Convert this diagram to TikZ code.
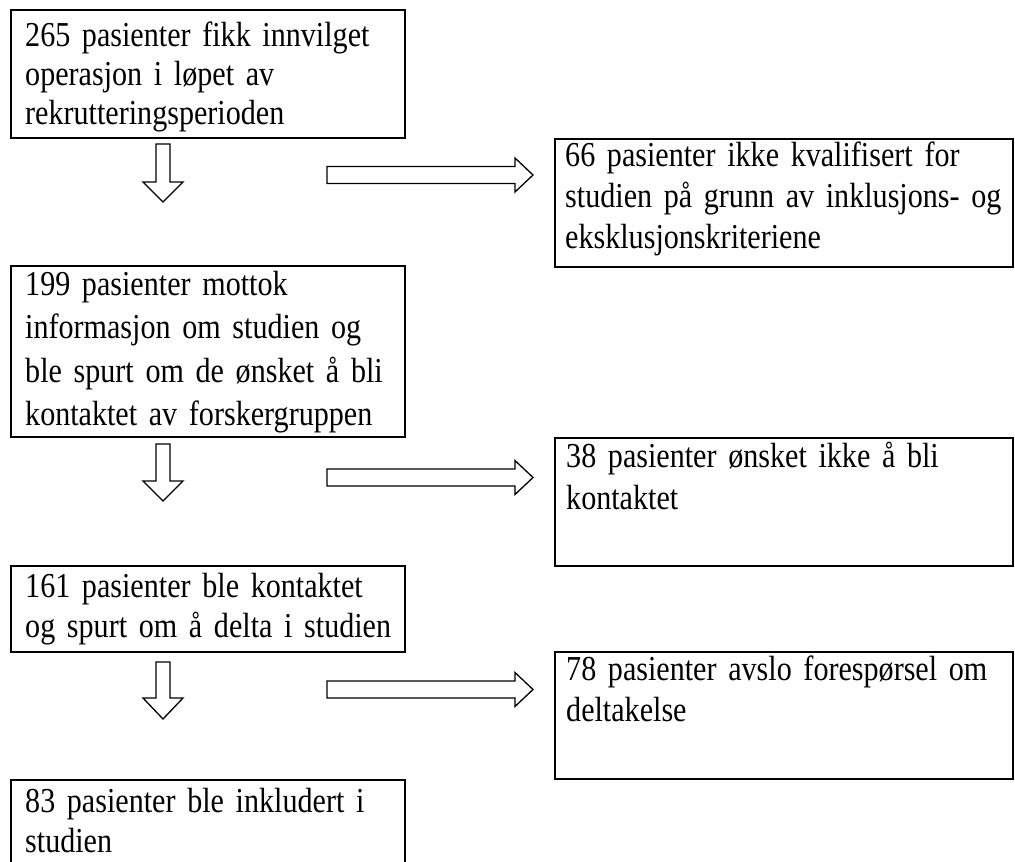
\documentclass[tikz,border=0pt]{standalone}
\usepackage{fontspec}
\setmainfont{Liberation Serif}[FakeStretch=0.86]
\newcommand\blkdown[3]{%
  \draw[blk] (156,#1) -- (170,#1) -- (170,#2) -- (183,#2) -- (163,#3)
    -- (143,#2) -- (156,#2) -- cycle;}
\newcommand\blkright[1]{%
  \draw[blk] (327,#1-8.5) -- (515,#1-8.5) -- (515,#1-17) -- (533,#1)
    -- (515,#1+17) -- (515,#1+8.5) -- (327,#1+8.5) -- cycle;}
\newcommand\firstl{\rule{0pt}{25pt}}
\begin{document}
\begin{tikzpicture}[x=1pt,y=-1pt,
  box/.style={draw=black,line width=2pt,anchor=north west,inner sep=0pt,
    rectangle,minimum width=#1},
  box/.default=394,
  txt/.style={anchor=north west,inner sep=0pt,text width=500pt,align=left,
    font=\fontsize{35}{#1}\selectfont},
  txt/.default=41,
  blk/.style={draw=black,fill=white,line width=1.3pt,line join=miter}]
\useasboundingbox (0,0) rectangle (1015,862);
\clip (0,0) rectangle (1015,862);
% boxes
\node[box,minimum height=128] (b1) at (10,9) {};
\node[box=458,minimum height=128] (b2) at (554,138) {};
\node[box,minimum height=171] (b3) at (10,265) {};
\node[box=458,minimum height=128] (b4) at (554,437) {};
\node[box,minimum height=86] (b5) at (10,565) {};
\node[box=458,minimum height=127] (b6) at (554,651) {};
\node[box,minimum height=130] (b7) at (10,779) {};
% texts
\node[txt=38.7] (t1) at (25,46.5-25) {\firstl 265 pasienter fikk innvilget\\operasjon i løpet av\\rekrutteringsperioden};
\node[txt=41] (t2) at (565,166-25) {\firstl 66 pasienter ikke kvalifisert for\\studien på grunn av inklusjons- og\\eksklusjonskriteriene};
\node[txt=43.5] (t3) at (25,295-25) {\firstl 199 pasienter mottok\\informasjon om studien og\\ble spurt om de ønsket å bli\\kontaktet av forskergruppen};
\node[txt=41.7] (t4) at (566,467-25) {\firstl 38 pasienter ønsket ikke å bli\\kontaktet};
\node[txt=40] (t5) at (25,597-25) {\firstl 161 pasienter ble kontaktet\\og spurt om å delta i studien};
\node[txt=41.7] (t6) at (566,680-25) {\firstl 78 pasienter avslo forespørsel om\\deltakelse};
\node[txt=40] (t7) at (25,812-25) {\firstl 83 pasienter ble inkludert i\\studien};
% block arrows
\blkdown{144}{182}{202}
\blkdown{444}{481}{501}
\blkdown{662}{698}{719}
\blkright{175}
\blkright{477.5}
\blkright{689.5}
\end{tikzpicture}
\end{document}
